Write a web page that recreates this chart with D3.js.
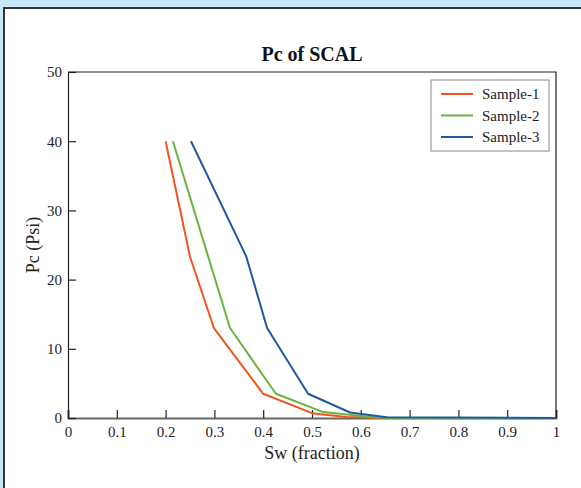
<!DOCTYPE html>
<html>
<head>
<meta charset="utf-8">
<script src="https://cdn.jsdelivr.net/npm/d3@7"></script>
<style>
  html, body { margin: 0; padding: 0; background: #c6e7f6; }
  svg { display: block; }
  svg text { font-family: 'Liberation Serif', 'Times New Roman', serif; }
</style>
</head>
<body>
<svg id="chart" width="581" height="488"></svg>
<script>
// Capillary pressure curves (Pc vs water saturation) for three SCAL samples
const seriesNames = ["Sample-1", "Sample-2", "Sample-3"];
const seriesColors = ["#f2541f", "#6bb240", "#1d5a9f"];

const sw1 = [0.200, 0.250, 0.299, 0.400, 0.500, 0.570, 0.660, 1.000];
const pc1 = [40.0, 23.3, 13.0, 3.5, 0.7, 0.15, 0.0, 0.0];

const sw2 = [0.215, 0.332, 0.426, 0.523, 0.625, 0.660, 1.000];
const pc2 = [40.0, 13.0, 3.5, 0.85, 0.1, 0.0, 0.0];

const sw3 = [0.252, 0.365, 0.408, 0.492, 0.578, 0.653, 1.000];
const pc3 = [40.0, 23.4, 13.0, 3.5, 0.8, 0.1, 0.0];

const xTicks = [0, 0.1, 0.2, 0.3, 0.4, 0.5, 0.6, 0.7, 0.8, 0.9, 1];
const yTicks = [0, 10, 20, 30, 40, 50];

const series = [
  { name: seriesNames[0], color: seriesColors[0], sw: sw1, pc: pc1 },
  { name: seriesNames[1], color: seriesColors[1], sw: sw2, pc: pc2 },
  { name: seriesNames[2], color: seriesColors[2], sw: sw3, pc: pc3 }
];

const svg = d3.select("#chart");
const font = "'Liberation Serif', 'Times New Roman', serif";

// white panel with dark frame
svg.append("rect")
  .attr("x", 4).attr("y", 8).attr("width", 600).attr("height", 500)
  .attr("fill", "#fff").attr("stroke", "#333").attr("stroke-width", 2);

const plot = { left: 68, right: 556, top: 72, bottom: 418 };
const x = d3.scaleLinear().domain([0, 1]).range([plot.left, plot.right]);
const y = d3.scaleLinear().domain([0, 50]).range([plot.bottom, plot.top]);

// frame top & right
svg.append("path")
  .attr("d", `M${plot.left},${plot.top}H${plot.right}V${plot.bottom}`)
  .attr("fill", "none").attr("stroke", "#222").attr("stroke-width", 1.2);

// x axis with inward ticks
const xAxis = svg.append("g").attr("transform", `translate(0,${plot.bottom})`)
  .call(d3.axisBottom(x).tickValues(xTicks).tickSize(-8).tickPadding(8)
    .tickFormat(d => d3.format("~g")(d)));
xAxis.attr("font-family", font).attr("font-size", 15);
xAxis.select(".domain").attr("stroke", "#666").attr("stroke-width", 2);
xAxis.selectAll(".tick line").attr("stroke", "#222").attr("stroke-width", 1.2);
xAxis.selectAll(".tick text")
  .style("font-family", font).style("font-size", "15px").attr("fill", "#222");

// y axis with inward ticks
const yAxis = svg.append("g").attr("transform", `translate(${plot.left},0)`)
  .call(d3.axisLeft(y).tickValues(yTicks).tickSize(-8).tickPadding(6));
yAxis.attr("font-family", font).attr("font-size", 15);
yAxis.select(".domain").attr("stroke", "#222").attr("stroke-width", 1.2);
yAxis.selectAll(".tick line").attr("stroke", "#222").attr("stroke-width", 1.2);
yAxis.selectAll(".tick text")
  .style("font-family", font).style("font-size", "15px").attr("fill", "#222");

// curves
const line = d3.line().x(d => x(d[0])).y(d => y(d[1]));
series.forEach(s => {
  svg.append("path")
    .datum(s.sw.map((v, i) => [v, s.pc[i]]))
    .attr("d", line)
    .attr("fill", "none")
    .attr("stroke", s.color)
    .attr("stroke-width", 2)
    .attr("stroke-linejoin", "round");
});

// title & axis labels
svg.append("text")
  .attr("x", (plot.left + plot.right) / 2).attr("y", 61)
  .attr("text-anchor", "middle")
  .style("font-size", "20px").attr("font-weight", "bold").attr("fill", "#111")
  .text("Pc of SCAL");

svg.append("text")
  .attr("x", (plot.left + plot.right) / 2).attr("y", 459)
  .attr("text-anchor", "middle")
  .style("font-size", "18px").attr("fill", "#222")
  .text("Sw (fraction)");

svg.append("text")
  .attr("transform", `translate(39,${(plot.top + plot.bottom) / 2}) rotate(-90)`)
  .attr("text-anchor", "middle")
  .style("font-size", "18px").attr("fill", "#222")
  .text("Pc (Psi)");

// legend
const legend = svg.append("g");
legend.append("rect")
  .attr("x", 431).attr("y", 80).attr("width", 118).attr("height", 71)
  .attr("fill", "#fff").attr("stroke", "#888").attr("stroke-width", 1);
series.forEach((s, i) => {
  const ly = 94 + i * 21.5;
  legend.append("line")
    .attr("x1", 441).attr("x2", 473).attr("y1", ly).attr("y2", ly)
    .attr("stroke", s.color).attr("stroke-width", 2);
  legend.append("text")
    .attr("x", 482).attr("y", ly + 5)
    .style("font-size", "15px").attr("fill", "#222")
    .text(s.name);
});
</script>
</body>
</html>
